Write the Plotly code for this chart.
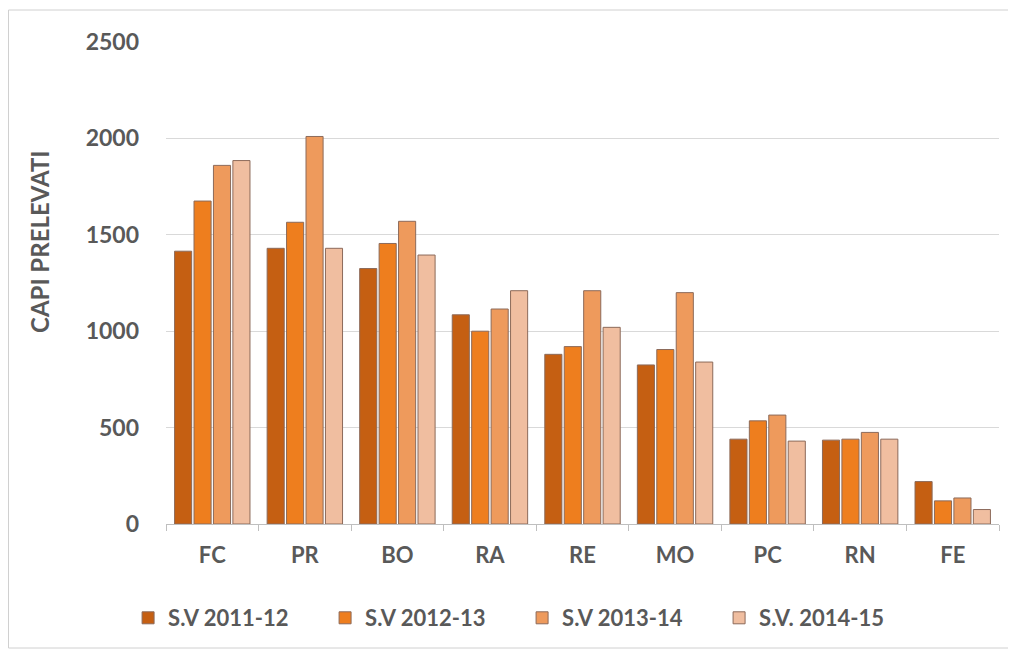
import plotly.graph_objects as go

categories = ["FC", "PR", "BO", "RA", "RE", "MO", "PC", "RN", "FE"]
series_names = ["S.V 2011-12", "S.V 2012-13", "S.V 2013-14", "S.V. 2014-15"]
sv_2011_12 = [1415, 1430, 1325, 1085, 880, 825, 440, 435, 220]
sv_2012_13 = [1675, 1565, 1455, 1000, 920, 905, 535, 440, 120]
sv_2013_14 = [1860, 2010, 1570, 1115, 1210, 1200, 565, 475, 135]
sv_2014_15 = [1885, 1430, 1395, 1210, 1020, 840, 430, 440, 75]
colors = ["#C55F12", "#EE7E1E", "#EE9A5C", "#F0BEA0"]
y_title = "CAPI PRELEVATI"

FONT = "Lato, 'Open Sans', sans-serif"
GREY = "#595959"

W, H = 1008, 644
L, R, T, B = 158, 17, 34, 128
PW, PH = W - L - R, H - T - B

fig = go.Figure()
for name, vals, col in zip(series_names, [sv_2011_12, sv_2012_13, sv_2013_14, sv_2014_15], colors):
    fig.add_trace(go.Bar(
        x=categories, y=vals, name=name,
        marker=dict(color=col, line=dict(color="#8C6A5A", width=1)),
    ))

fig.update_layout(
    width=W, height=H,
    margin=dict(l=L, r=R, t=T, b=B, autoexpand=False),
    paper_bgcolor="white", plot_bgcolor="white",
    barmode="group", bargap=0.16, bargroupgap=0.12,
    font=dict(family=FONT, color=GREY, size=18),
    showlegend=True,
    legend=dict(orientation="h", xref="container", yref="container",
                x=0.51, xanchor="center", y=1 - 610 / H, yanchor="middle",
                bgcolor="rgba(0,0,0,0)",
                font=dict(family=FONT, size=22, color=GREY, weight="bold"),
                entrywidth=152, entrywidthmode="pixels", itemwidth=30,
                traceorder="normal"),
    xaxis=dict(
        type="category", showgrid=False, showline=True, linecolor="#BFBFBF", linewidth=1,
        ticks="outside", tickson="boundaries", ticklen=6, tickcolor="#BFBFBF",
        ticklabelstandoff=12,
        tickfont=dict(family=FONT, size=22, color=GREY, weight="bold"),
    ),
    yaxis=dict(
        range=[0, 2500], tickvals=[0, 500, 1000, 1500, 2000, 2500],
        showgrid=True, gridcolor="#D9D9D9", gridwidth=1, zeroline=False, showline=False,
        ticklabelstandoff=26,
        tickfont=dict(family=FONT, size=23, color=GREY, weight="bold"),
    ),
    annotations=[dict(text=y_title, textangle=-90, showarrow=False,
                      xref="paper", yref="paper",
                      x=(32 - L) / PW, y=(PH + T - 234) / PH,
                      xanchor="center", yanchor="middle",
                      font=dict(family=FONT, size=24, color=GREY, weight="bold"))],
    shapes=[dict(type="rect", xref="paper", yref="paper",
                 x0=(0.5 - L) / PW, x1=(1002 - L) / PW,
                 y0=(PH + T - 640) / PH, y1=(PH + T - 2) / PH,
                 line=dict(color="#D0D0D0", width=1), fillcolor="rgba(0,0,0,0)", layer="below")],
)

fig.write_html("out.html")
